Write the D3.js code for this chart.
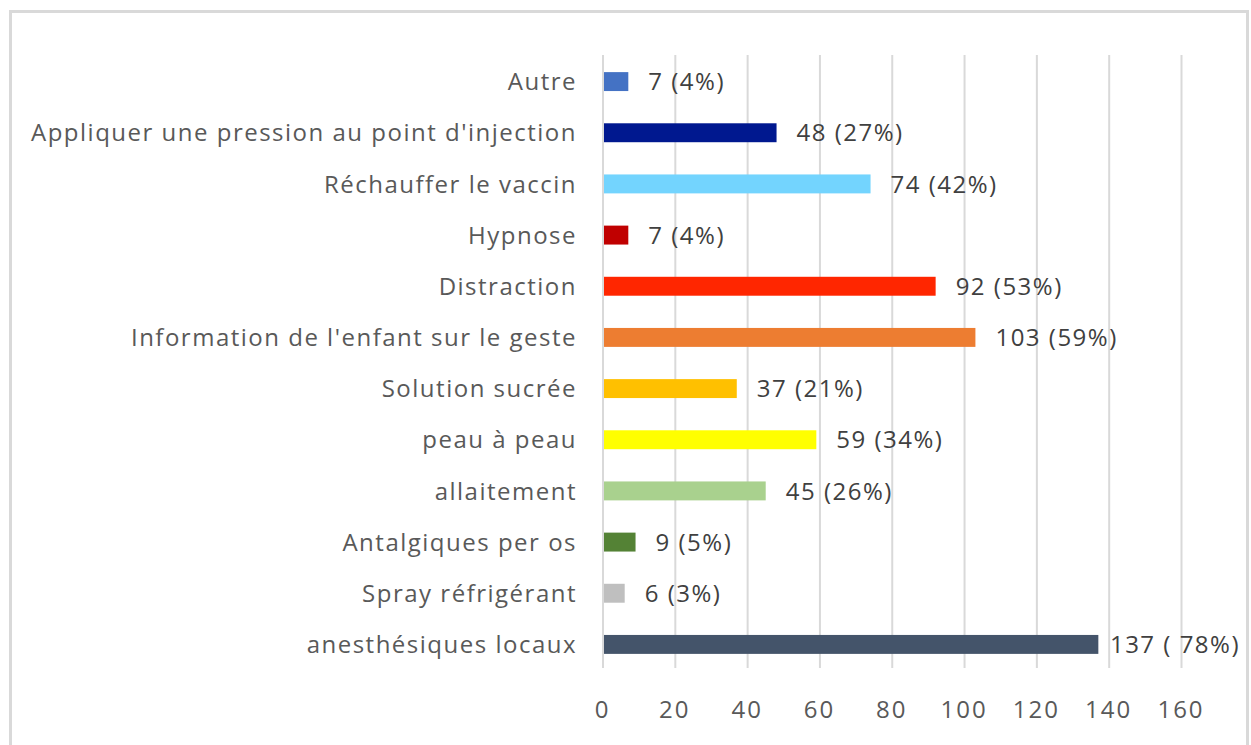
<!DOCTYPE html>
<html>
<head>
<meta charset="utf-8">
<script src="https://cdn.jsdelivr.net/npm/d3@7"></script>
<style>
  html, body { margin: 0; padding: 0; background: #fff; }
  svg text { font-family: "Open Sans", "Noto Sans", sans-serif; }
</style>
</head>
<body>
<svg id="chart" width="1251" height="745"></svg>
<script>
// data, top to bottom as drawn
const categories = [
  'Autre',
  "Appliquer une pression au point d'injection",
  'Réchauffer le vaccin',
  'Hypnose',
  'Distraction',
  "Information de l'enfant sur le geste",
  'Solution sucrée',
  'peau à peau ',
  'allaitement',
  'Antalgiques per os',
  'Spray réfrigérant',
  'anesthésiques locaux',
];
const values = [7, 48, 74, 7, 92, 103, 37, 59, 45, 9, 6, 137];
const valueLabels = [
  '7 (4%)', '48 (27%)', '74 (42%)', '7 (4%)', '92 (53%)', '103 (59%)',
  '37 (21%)', '59 (34%)', '45 (26%)', '9 (5%)', '6 (3%)', '137 ( 78%)',
];
const barColors = [
  '#4472C4', '#00188F', '#73D4FE', '#C00000', '#FF2600', '#ED7D31',
  '#FFC000', '#FFFF00', '#A9D18E', '#548235', '#BFBFBF', '#44546A',
];
const xTicks = [0, 20, 40, 60, 80, 100, 120, 140, 160];

const svg = d3.select('#chart');

// outer chart border (bottom edge is cut off by the picture)
svg.append('rect')
  .attr('x', 10.5).attr('y', 11.5)
  .attr('width', 1237).attr('height', 760)
  .attr('fill', 'none')
  .attr('stroke', '#D9D9D9')
  .attr('stroke-width', 3);

const x = d3.scaleLinear().domain([0, 160]).range([603, 1181.5]);
const y = d3.scaleBand().domain(categories).range([56, 670]).paddingInner(0.63).paddingOuter(0.315);

// vertical gridlines
svg.append('g')
  .selectAll('line')
  .data(xTicks)
  .join('line')
  .attr('x1', d => x(d)).attr('x2', d => x(d))
  .attr('y1', 55).attr('y2', 668)
  .attr('stroke', '#D9D9D9')
  .attr('stroke-width', 2);

// x axis labels
const xAxis = d3.axisBottom(x).tickValues(xTicks).tickSize(0).tickPadding(0);
const gx = svg.append('g').attr('transform', 'translate(-1,701)').call(xAxis);
gx.select('.domain').remove();
gx.selectAll('text')
  .attr('dy', '0.71em')
  .attr('fill', '#595959')
  .style('font-size', '24px')
  .style('letter-spacing', '2px');

// category labels
const yAxis = d3.axisLeft(y).tickSize(0).tickPadding(0);
const gy = svg.append('g').attr('transform', 'translate(577,0)').call(yAxis);
gy.select('.domain').remove();
gy.selectAll('text')
  .attr('fill', '#595959')
  .attr('dy', '0.36em')
  .style('font-size', '24px')
  .style('letter-spacing', '1.5px');

// bars
svg.append('g')
  .selectAll('rect')
  .data(categories)
  .join('rect')
  .attr('x', x(0) + 1)
  .attr('y', d => y(d))
  .attr('width', (d, i) => x(values[i]) - x(0) - 1)
  .attr('height', y.bandwidth())
  .attr('fill', (d, i) => barColors[i]);

// value labels, pulled back inside the chart when they'd overflow
const labels = svg.append('g')
  .selectAll('text')
  .data(categories)
  .join('text')
  .attr('y', d => y(d) + y.bandwidth() / 2)
  .attr('dy', '0.36em')
  .attr('fill', '#404040')
  .style('font-size', '24px')
  .style('letter-spacing', '1.5px')
  .text((d, i) => valueLabels[i]);

labels.attr('x', function (d, i) {
  const len = this.getComputedTextLength();
  return Math.min(x(values[i]) + 20, 1240 - len);
});
</script>
</body>
</html>
